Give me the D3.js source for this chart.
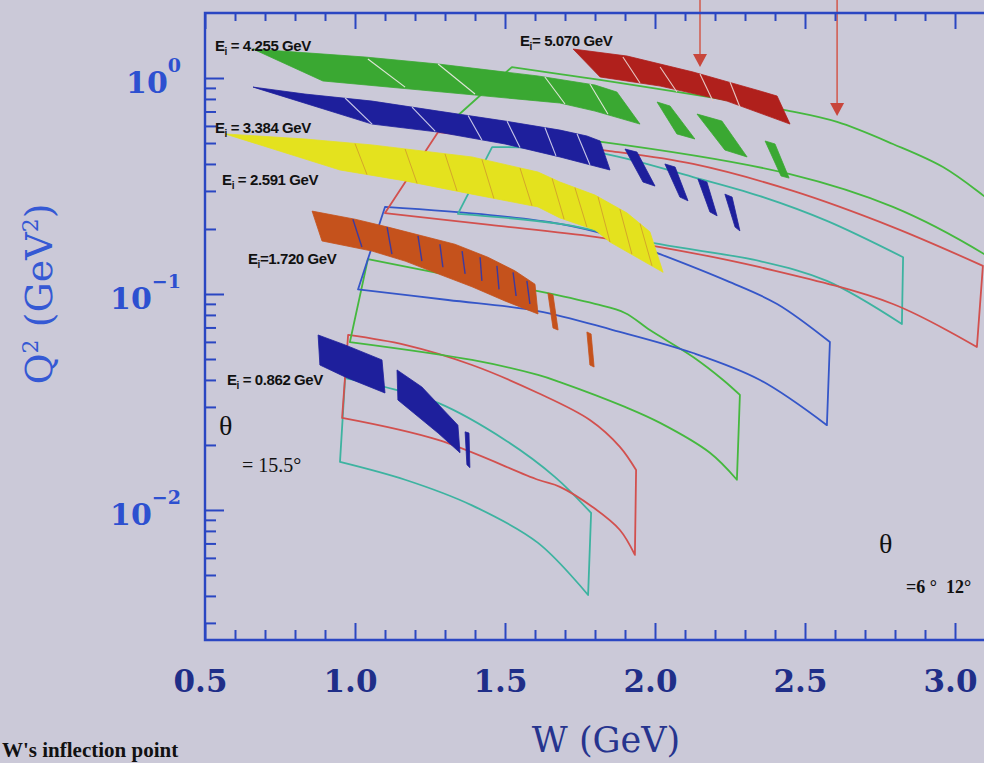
<!DOCTYPE html>
<html>
<head>
<meta charset="utf-8">
<script src="https://cdn.jsdelivr.net/npm/d3@7"></script>
<style>
  body { margin: 0; background: #cbc9d8; }
  svg { display: block; }
</style>
</head>
<body>
<svg id="chart" width="984" height="763"></svg>
<script>
// ---- axis ticks ----
var xMajor = [0.5, 1.0, 1.5, 2.0, 2.5, 3.0];
var yMajor = [1, 0.1, 0.01];
var yExponents = ['0', '\u22121', '\u22122'];
var yMinor = [0.003,0.004,0.005,0.006,0.007,0.008,0.009,
              0.02,0.03,0.04,0.05,0.06,0.07,0.08,0.09,
              0.2,0.3,0.4,0.5,0.6,0.7,0.8,0.9];

// ---- theta = 6..12 deg outlines, [W, Q2] ----
var cyan1Top    = [[0.967,0.0408],[1.100,0.0371],[1.277,0.0313],[1.500,0.0211],[1.667,0.0142],[1.787,0.00969]];
var cyan1Bottom = [[0.950,0.0167],[1.167,0.0138],[1.390,0.0105],[1.610,0.00704],[1.777,0.00404]];
var red1Top     = [[0.977,0.0646],[1.167,0.0581],[1.390,0.0469],[1.610,0.0348],[1.783,0.0261],[1.883,0.0196],[1.937,0.0153]];
var red1Bottom  = [[0.957,0.0267],[1.277,0.0211],[1.610,0.0138],[1.683,0.0128],[1.793,0.0103],[1.883,0.00808],[1.933,0.00619]];
var green1Top   = [[1.043,0.145],[1.317,0.122],[1.610,0.103],[1.800,0.0899],[1.900,0.0817],[1.983,0.0681],[2.127,0.0511],[2.227,0.0400],[2.283,0.0341]];
var green1Bottom= [[0.983,0.0599],[1.390,0.0495],[1.610,0.0422],[1.683,0.0391],[1.900,0.0300],[2.017,0.0253],[2.183,0.0184],[2.273,0.0138]];
var blue1Top    = [[1.100,0.253],[1.450,0.232],[1.683,0.211],[1.850,0.186],[2.017,0.153],[2.240,0.115],[2.407,0.0899],[2.583,0.0599]];
var blue1Bottom = [[1.010,0.105],[1.310,0.0938],[1.610,0.0834],[1.860,0.0681],[2.127,0.0533],[2.350,0.0400],[2.573,0.0247]];
var cyan2Top    = [[1.457,0.479],[1.800,0.454],[2.127,0.348],[2.350,0.284],[2.573,0.218],[2.827,0.148]];
var cyan2Bottom = [[1.343,0.235],[1.683,0.211],[2.017,0.170],[2.350,0.142],[2.573,0.115],[2.823,0.0726]];
var red2Top     = [[1.277,0.562],[1.550,0.511],[1.850,0.459],[2.127,0.400],[2.460,0.300],[2.793,0.204],[3.093,0.135]];
var red2Bottom  = [[1.100,0.237],[1.450,0.209],[1.800,0.184],[2.017,0.165],[2.350,0.133],[2.793,0.0899],[3.073,0.0568]];
var green2Top   = [[1.523,1.124],[1.683,1.043],[1.800,0.989],[2.450,0.703],[2.607,0.626],[2.793,0.495],[2.960,0.387],[3.097,0.284],[3.217,0.209]];
var green2Bottom= [[1.300,0.593],[1.550,0.551],[1.827,0.505],[2.450,0.359],[2.793,0.253],[3.097,0.153],[3.217,0.117]];

// ---- theta = 15.5 deg filled bands, [W, Q2] ----
var greenBand  = [[0.660,1.362],[1.033,1.251],[1.277,1.161],[1.610,1.022],[1.800,0.928],[1.873,0.861],[1.950,0.612],[1.800,0.703],[1.683,0.766],[1.400,0.834],[0.893,0.969]];
var redBand    = [[1.727,1.362],[1.907,1.264],[2.127,1.066],[2.350,0.871],[2.407,0.825],[2.450,0.612],[2.240,0.782],[2.017,0.918],[1.817,1.011]];
var blueBand   = [[0.660,0.908],[0.833,0.843],[1.057,0.782],[1.277,0.703],[1.500,0.632],[1.683,0.574],[1.773,0.539],[1.817,0.511],[1.850,0.375],[1.683,0.431],[1.500,0.495],[1.277,0.562],[1.057,0.612]];
var yellowBand = [[0.567,0.551],[0.833,0.522],[1.057,0.490],[1.390,0.431],[1.610,0.367],[1.683,0.330],[1.800,0.287],[1.907,0.237],[1.983,0.194],[2.027,0.126],[1.850,0.174],[1.800,0.198],[1.683,0.225],[1.610,0.253],[1.390,0.290],[1.167,0.334],[0.950,0.375]];
var orangeBand = [[0.857,0.242],[1.000,0.222],[1.110,0.204],[1.223,0.186],[1.333,0.170],[1.443,0.148],[1.533,0.128],[1.600,0.111],[1.610,0.0808],[1.500,0.0928],[1.390,0.108],[1.277,0.124],[1.167,0.142],[1.057,0.158],[0.890,0.176]];

var greenPieces = [
  [[2.007,0.774],[2.050,0.742],[2.133,0.522],[2.073,0.551]],
  [[2.140,0.681],[2.223,0.632],[2.307,0.431],[2.233,0.464]],
  [[2.367,0.511],[2.400,0.495],[2.447,0.344],[2.420,0.352]]
];
var bluePieces = [
  [[1.900,0.469],[1.940,0.454],[2.000,0.316],[1.960,0.330]],
  [[2.033,0.400],[2.067,0.387],[2.110,0.270],[2.083,0.281]],
  [[2.143,0.341],[2.173,0.330],[2.207,0.230],[2.183,0.240]],
  [[2.233,0.290],[2.257,0.281],[2.283,0.196],[2.267,0.204]]
];
var orangePieces = [
  [[1.643,0.101],[1.660,0.0990],[1.677,0.0681],[1.660,0.0696]],
  [[1.773,0.0667],[1.787,0.0653],[1.797,0.0459],[1.783,0.0469]]
];
var lowBluePieces = [
  [[0.877,0.0646],[0.967,0.0581],[1.090,0.0495],[1.100,0.0348],[0.967,0.0413],[0.883,0.0469]],
  [[1.140,0.0445],[1.223,0.0371],[1.343,0.0247],[1.350,0.0184],[1.277,0.0227],[1.143,0.0323]],
  [[1.367,0.0230],[1.380,0.0227],[1.383,0.0157],[1.373,0.0162]]
];

// segment divisions inside the bands
var greenSeps  = [[[1.043,1.224],[1.167,0.908]],[[1.277,1.161],[1.400,0.843]],[[1.633,1.011],[1.700,0.758]],[[1.783,0.938],[1.843,0.681]]];
var redSeps    = [[[1.893,1.251],[1.950,0.948]],[[2.017,1.124],[2.073,0.861]],[[2.150,1.043],[2.193,0.782]],[[2.250,0.958],[2.283,0.734]]];
var blueSeps   = [[[0.967,0.808],[1.057,0.612]],[[1.190,0.734],[1.267,0.568]],[[1.377,0.671],[1.423,0.516]],[[1.507,0.630],[1.550,0.477]],[[1.633,0.590],[1.670,0.436]],[[1.740,0.552],[1.783,0.397]]];
var yellowSeps = [[[1.000,0.497],[1.040,0.357]],[[1.167,0.469],[1.207,0.325]],[[1.300,0.445],[1.340,0.300]],[[1.423,0.420],[1.463,0.277]],[[1.550,0.383],[1.590,0.256]],[[1.657,0.343],[1.697,0.222]],[[1.733,0.311],[1.773,0.204]],[[1.810,0.282],[1.850,0.174]],[[1.883,0.247],[1.923,0.153]],[[1.950,0.212],[1.990,0.135]]];
var orangeSeps = [[[0.993,0.222],[1.023,0.165]],[[1.107,0.204],[1.123,0.153]],[[1.210,0.186],[1.223,0.142]],[[1.283,0.170],[1.293,0.133]],[[1.357,0.158],[1.367,0.124]],[[1.417,0.148],[1.423,0.115]],[[1.473,0.135],[1.480,0.105]],[[1.527,0.126],[1.537,0.0979]],[[1.573,0.115],[1.583,0.0899]]];

// arrows (W, tip Q2)
var arrowW   = [2.150, 2.607];
var arrowTip = [1.124, 0.667];

// beam energy labels
var beamEnergies = ['4.255', '5.070', '3.384', '2.591', '1.720', '0.862'];
var beamEqual    = [' = ', '= ', ' = ', ' = ', '=', ' = '];


// ---------------- drawing ----------------
var svg = d3.select('#chart');
var frameColor = '#2a46c2';

var x = d3.scaleLinear().domain([0.5, 3.1]).range([205, 985]);
var y = d3.scaleLog().domain([0.0025, 2.0]).range([640, 13]);

svg.append('rect').attr('width', 984).attr('height', 763).attr('fill', '#cbc9d8');

svg.append('defs').append('clipPath').attr('id', 'plot')
  .append('rect').attr('x', 205).attr('y', 13).attr('width', 780).attr('height', 627);

var plot = svg.append('g').attr('clip-path', 'url(#plot)');

var smooth = d3.line().x(function(d){ return x(d[0]); }).y(function(d){ return y(d[1]); }).curve(d3.curveCatmullRom);
var poly = d3.line().x(function(d){ return x(d[0]); }).y(function(d){ return y(d[1]); }).curve(d3.curveLinearClosed);
var seg = d3.line().x(function(d){ return x(d[0]); }).y(function(d){ return y(d[1]); });

// outlines first
var regions = [
  [cyan1Top, cyan1Bottom, '#3db3a0'],
  [red1Top, red1Bottom, '#d2504e'],
  [green1Top, green1Bottom, '#45b83e'],
  [blue1Top, blue1Bottom, '#3556c8'],
  [cyan2Top, cyan2Bottom, '#3db3a0'],
  [red2Top, red2Bottom, '#d2504e'],
  [green2Top, green2Bottom, '#45b83e']
];
regions.forEach(function(r){
  var d = smooth(r[0]) + 'L' + smooth(r[1].slice().reverse()).slice(1) + 'Z';
  plot.append('path').attr('d', d)
    .attr('fill', 'none').attr('stroke', r[2]).attr('stroke-width', 1.8)
    .attr('stroke-linejoin', 'round');
});

// bands
function band(pts, color){
  plot.append('path').attr('d', poly(pts)).attr('fill', color).attr('stroke', color).attr('stroke-width', 0.8);
}
function seps(list, color, w){
  list.forEach(function(s){
    plot.append('path').attr('d', seg(s)).attr('stroke', color).attr('stroke-width', w).attr('fill', 'none');
  });
}
band(greenBand, '#3aa832');  greenPieces.forEach(function(p){ band(p, '#3aa832'); });
band(redBand, '#b0201c');
band(blueBand, '#1e1f9c');   bluePieces.forEach(function(p){ band(p, '#1e1f9c'); });
band(yellowBand, '#e4e21e');
band(orangeBand, '#c5521c'); orangePieces.forEach(function(p){ band(p, '#c5521c'); });
lowBluePieces.forEach(function(p){ band(p, '#1e1f9c'); });

seps(greenSeps, '#dfe6d8', 1.1);
seps(redSeps, '#e6c8c4', 1.1);
seps(blueSeps, '#c8c8e8', 1.1);
seps(yellowSeps, '#d4a62a', 1);
seps(orangeSeps, '#3c3aa0', 1.4);

// arrows
arrowW.forEach(function(w, i){
  var ax = x(w), ty = y(arrowTip[i]);
  svg.append('line').attr('x1', ax).attr('x2', ax).attr('y1', 0).attr('y2', ty - 10)
    .attr('stroke', '#d2584c').attr('stroke-width', 1.5);
  svg.append('path').attr('d', 'M' + (ax - 7) + ',' + (ty - 13) + 'L' + (ax + 7) + ',' + (ty - 13) + 'L' + ax + ',' + ty + 'Z')
    .attr('fill', '#c8463c');
});

// frame and ticks
svg.append('path')
  .attr('d', 'M985,13H205V640H985')
  .attr('fill', 'none').attr('stroke', frameColor).attr('stroke-width', 2.4);

function ticks(axis, values, size, tr){
  var g = svg.append('g').attr('transform', tr)
    .call(axis.tickValues(values).tickSize(size).tickFormat(''));
  g.select('.domain').remove();
  g.selectAll('.tick line').attr('stroke', frameColor).attr('stroke-width', 2);
}
var xMinor = d3.range(5, 32).filter(function(i){ return i % 5 !== 0; }).map(function(i){ return i / 10; });
ticks(d3.axisBottom(x), xMajor, -17, 'translate(0,640)');
ticks(d3.axisBottom(x), xMinor, -10, 'translate(0,640)');
ticks(d3.axisTop(x), xMajor, -16, 'translate(0,13)');
ticks(d3.axisTop(x), xMinor, -8, 'translate(0,13)');
ticks(d3.axisLeft(y), yMajor, -19, 'translate(205,0)');
ticks(d3.axisLeft(y), yMinor, -11, 'translate(205,0)');

// x tick labels
var xl = svg.append('g').attr('transform', 'translate(-5,640)')
  .call(d3.axisBottom(x).tickValues(xMajor).tickSize(0).tickPadding(30).tickFormat(d3.format('.1f')));
xl.select('.domain').remove();
xl.selectAll('text').attr('font-family', 'DejaVu Serif').attr('font-weight', 'bold')
  .attr('font-size', 31).attr('fill', '#1f2e88');

// y tick labels
yMajor.forEach(function(v, i){
  var t = svg.append('text').attr('x', 181).attr('y', y(v) + 15)
    .attr('text-anchor', 'end').attr('font-family', 'DejaVu Serif').attr('font-weight', 'bold')
    .attr('font-size', 30).attr('fill', '#2d50d0').text('10');
  t.append('tspan').attr('dy', -21).attr('font-size', 19).text(yExponents[i]);
});

// axis titles
svg.append('text').attr('x', 606).attr('y', 752).attr('text-anchor', 'middle')
  .attr('font-family', 'DejaVu Serif').attr('font-size', 35).attr('fill', '#26348e')
  .text('W (GeV)');

var yt = svg.append('text').attr('transform', 'translate(52,294) rotate(-90)')
  .attr('text-anchor', 'middle').attr('font-family', 'DejaVu Serif').attr('font-size', 38)
  .attr('fill', '#3559d4');
yt.append('tspan').text('Q');
yt.append('tspan').attr('dy', -14).attr('font-size', 22).text('2');
yt.append('tspan').attr('dy', 14).text(' (GeV');
yt.append('tspan').attr('dy', -14).attr('font-size', 22).text('2');
yt.append('tspan').attr('dy', 14).text(')');

// beam energy labels
var labelSpots = [[0.533,1.334],[1.550,1.406],[0.533,0.556],[0.557,0.320],[0.643,0.138],[0.573,0.0379]];
beamEnergies.forEach(function(e, i){
  var t = svg.append('text').attr('x', x(labelSpots[i][0])).attr('y', y(labelSpots[i][1]))
    .attr('font-family', 'Liberation Sans').attr('font-weight', 'bold').attr('font-size', 15)
    .attr('letter-spacing', -0.4).attr('fill', '#111').attr('xml:space', 'preserve').text('E');
  t.append('tspan').attr('dy', 4).attr('font-size', 10).text('i');
  t.append('tspan').attr('dy', -4).text(beamEqual[i] + e + ' GeV');
});

// theta annotations
svg.append('text').attr('x', 219).attr('y', 435).attr('font-family', 'Liberation Serif')
  .attr('font-size', 28).attr('fill', '#111').text('\u03b8');
svg.append('text').attr('x', 242).attr('y', 472).attr('font-family', 'Liberation Serif')
  .attr('font-size', 20).attr('fill', '#111').text('= 15.5\u00b0');
svg.append('text').attr('x', 879).attr('y', 553).attr('font-family', 'Liberation Serif')
  .attr('font-size', 28).attr('fill', '#111').text('\u03b8');
svg.append('text').attr('x', 906).attr('y', 593).attr('font-family', 'Liberation Serif')
  .attr('font-weight', 'bold').attr('font-size', 18).attr('fill', '#111')
  .attr('xml:space', 'preserve').text('=6 \u00b0  12\u00b0');

// caption line at the bottom edge
svg.append('text').attr('x', 2).attr('y', 757).attr('font-family', 'Liberation Serif')
  .attr('font-weight', 'bold').attr('font-size', 21).attr('fill', '#111')
  .text("W's inflection point");
</script>
</body>
</html>
